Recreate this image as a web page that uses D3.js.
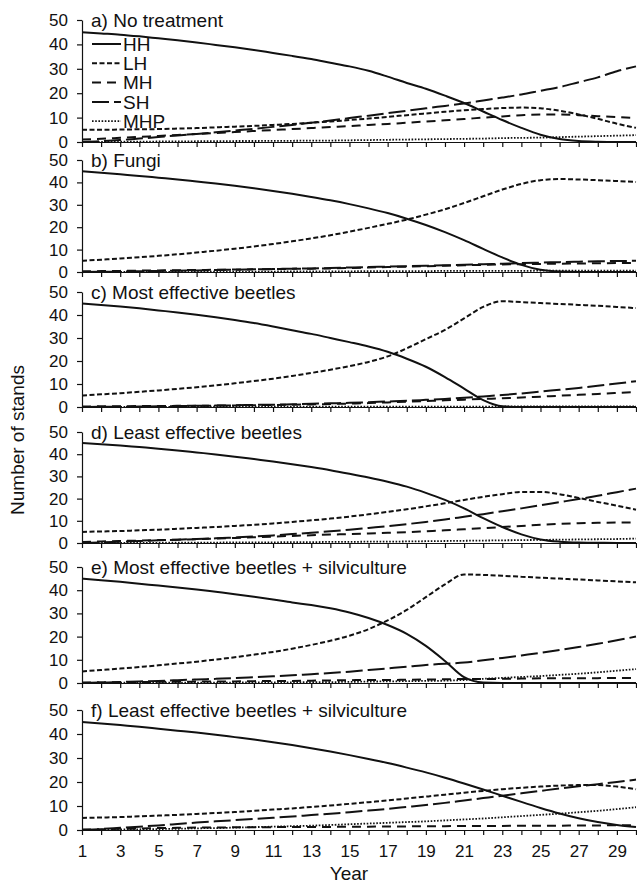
<!DOCTYPE html>
<html>
<head>
<meta charset="utf-8">
<script src="https://cdn.jsdelivr.net/npm/d3@7"></script>
<style>
  body { margin: 0; background: #fff; }
  svg { font-family: "Liberation Sans", Arial, sans-serif; }
  .domain, .tick line { stroke: #111; stroke-width: 1.2; }
  .tick text { fill: #111; }
</style>
</head>
<body>
<div id="chart"></div>
<script>
// Years on the x axis
const years = [1, 2, 3, 4, 5, 6, 7, 8, 9, 10, 11, 12, 13, 14, 15,
  16, 17, 18, 19, 20, 21, 22, 23, 24, 25, 26, 27, 28, 29, 30];
const yTicks = [0, 10, 20, 30, 40, 50];
const seriesNames = ['HH', 'LH', 'MH', 'SH', 'MHP'];
const panelTitles = ['a) No treatment', 'b) Fungi', 'c) Most effective beetles',
  'd) Least effective beetles', 'e) Most effective beetles + silviculture',
  'f) Least effective beetles + silviculture'];

// a) No treatment
const aHH = [45, 44.5, 44, 43.3, 42.5, 41.7, 40.8, 39.8, 38.8, 37.7, 36.5, 35.3, 34, 32.5, 31, 29.2, 26.8, 24.2, 21.8, 19, 16, 12.5, 9, 5.8, 3, 1.2, 0.4, 0.1, 0, 0];
const aLH = [5, 5, 5.1, 5.2, 5.3, 5.5, 5.7, 6, 6.3, 6.6, 7, 7.4, 7.9, 8.4, 9, 9.6, 10.3, 11, 11.7, 12.4, 13, 13.5, 13.9, 14.1, 13.8, 12.8, 11.3, 9.5, 7.5, 5.8];
const aMH = [1, 1.3, 1.7, 2.1, 2.5, 2.9, 3.3, 3.7, 4.1, 4.5, 4.9, 5.3, 5.7, 6.1, 6.5, 7, 7.4, 7.9, 8.4, 8.9, 9.4, 10, 10.5, 11, 11.3, 11.3, 11, 10.6, 10.2, 9.8];
const aSH = [0, 0.3, 0.8, 1.4, 2, 2.7, 3.3, 4, 4.7, 5.4, 6.2, 7, 7.9, 8.8, 9.8, 10.8, 11.8, 12.8, 13.8, 14.8, 15.8, 17, 18.2, 19.5, 21, 22.5, 24.5, 26.5, 29, 31];
const aMHP = [0, 0, 0.1, 0.1, 0.2, 0.2, 0.3, 0.3, 0.4, 0.4, 0.5, 0.5, 0.6, 0.6, 0.7, 0.8, 0.9, 1, 1.1, 1.2, 1.3, 1.4, 1.6, 1.7, 1.8, 2, 2.2, 2.4, 2.6, 2.8];

// b) Fungi
const bHH = [45, 44.3, 43.6, 42.9, 42.1, 41.3, 40.4, 39.5, 38.5, 37.4, 36.2, 34.9, 33.5, 32, 30.3, 28.4, 26.3, 23.8, 21, 17.8, 14.2, 10.3, 6.5, 3.2, 1, 0.2, 0, 0, 0, 0];
const bLH = [5, 5.5, 6, 6.6, 7.2, 7.9, 8.7, 9.5, 10.4, 11.4, 12.5, 13.7, 15, 16.4, 18, 19.7, 21.5, 23.4, 25.6, 28, 30.8, 33.8, 36.8, 39.3, 41, 41.5, 41.3, 41, 40.6, 40.2];
const bMH = [0.3, 0.4, 0.5, 0.6, 0.7, 0.8, 0.9, 1, 1.1, 1.2, 1.3, 1.4, 1.5, 1.6, 1.8, 2, 2.2, 2.4, 2.6, 2.8, 3, 3.2, 3.4, 3.5, 3.6, 3.7, 3.8, 3.9, 4, 4];
const bSH = [0, 0.1, 0.2, 0.3, 0.5, 0.6, 0.7, 0.9, 1, 1.2, 1.3, 1.5, 1.6, 1.8, 2, 2.2, 2.4, 2.6, 2.8, 3, 3.2, 3.5, 3.7, 4, 4.2, 4.4, 4.6, 4.8, 4.9, 5];
const bMHP = [0, 0, 0, 0.1, 0.1, 0.1, 0.1, 0.2, 0.2, 0.2, 0.2, 0.3, 0.3, 0.3, 0.3, 0.4, 0.4, 0.4, 0.4, 0.5, 0.5, 0.5, 0.5, 0.5, 0.6, 0.6, 0.6, 0.6, 0.6, 0.6];

// c) Most effective beetles
const cHH = [45, 44.4, 43.7, 42.9, 42, 41.1, 40.1, 39, 37.8, 36.5, 35, 33.4, 31.8, 30, 28.2, 26.3, 24, 21, 17.5, 13, 8, 3, 0.3, 0, 0, 0, 0, 0, 0, 0];
const cLH = [5, 5.5, 6, 6.6, 7.2, 7.9, 8.6, 9.4, 10.3, 11.3, 12.3, 13.5, 14.8, 16.2, 17.8, 19.6, 22, 25.5, 29.5, 33.5, 38.5, 43.5, 46, 45.6, 45.2, 44.8, 44.4, 44, 43.5, 43];
const cMH = [0.2, 0.3, 0.3, 0.4, 0.4, 0.5, 0.5, 0.6, 0.7, 0.8, 0.9, 1, 1.1, 1.3, 1.5, 1.7, 2, 2.3, 2.6, 2.9, 3.2, 3.5, 3.8, 4.1, 4.5, 4.9, 5.3, 5.7, 6.1, 6.5];
const cSH = [0, 0.1, 0.1, 0.2, 0.3, 0.4, 0.5, 0.6, 0.7, 0.9, 1, 1.2, 1.4, 1.6, 1.8, 2.1, 2.4, 2.7, 3.1, 3.5, 4, 4.6, 5.2, 5.9, 6.7, 7.5, 8.3, 9.2, 10.2, 11.2];
const cMHP = [0, 0, 0, 0, 0, 0, 0.1, 0.1, 0.1, 0.1, 0.1, 0.1, 0.1, 0.2, 0.2, 0.2, 0.2, 0.2, 0.2, 0.2, 0.2, 0.2, 0.2, 0.3, 0.3, 0.3, 0.3, 0.3, 0.3, 0.3];

// d) Least effective beetles
const dHH = [45, 44.5, 43.9, 43.2, 42.5, 41.7, 40.8, 39.9, 38.9, 37.8, 36.7, 35.5, 34.2, 32.8, 31.2, 29.5, 27.6, 25.4, 22.6, 19.4, 15.6, 11.2, 7.2, 3.9, 1.6, 0.6, 0.2, 0.1, 0, 0];
const dLH = [5, 5.2, 5.4, 5.7, 6, 6.4, 6.8, 7.2, 7.7, 8.2, 8.8, 9.5, 10.2, 11, 11.9, 12.9, 14, 15.2, 16.5, 17.9, 19.4, 20.8, 22, 23, 23, 22, 20.3, 18.5, 16.8, 15];
const dMH = [0.5, 0.7, 0.9, 1.1, 1.3, 1.5, 1.7, 2, 2.3, 2.6, 2.9, 3.2, 3.5, 3.8, 4, 4.3, 4.6, 4.9, 5.3, 5.7, 6.2, 6.7, 7.2, 7.7, 8.2, 8.6, 8.9, 9.1, 9.2, 9.2];
const dSH = [0, 0.3, 0.6, 0.9, 1.2, 1.5, 1.8, 2.1, 2.5, 2.9, 3.4, 4, 4.6, 5.3, 6, 6.8, 7.6, 8.5, 9.5, 10.6, 11.8, 13, 14.3, 15.6, 17, 18.4, 19.8, 21.3, 22.9, 24.5];
const dMHP = [0, 0, 0.1, 0.1, 0.1, 0.2, 0.2, 0.2, 0.3, 0.3, 0.3, 0.4, 0.4, 0.5, 0.5, 0.6, 0.6, 0.7, 0.8, 0.9, 1, 1.1, 1.2, 1.3, 1.4, 1.5, 1.6, 1.7, 1.8, 2];

// e) Most effective beetles + silviculture
const eHH = [45, 44.3, 43.6, 42.8, 42, 41.2, 40.3, 39.3, 38.3, 37.2, 36, 34.7, 33.6, 32.2, 30.4, 28, 25, 21.2, 16, 9.5, 2.5, 0.2, 0, 0, 0, 0, 0, 0, 0, 0];
const eLH = [5, 5.6, 6.2, 6.9, 7.6, 8.4, 9.2, 10.1, 11.1, 12.2, 13.4, 14.8, 16.4, 18.2, 20.4, 23.2, 27, 31.5, 37, 42.5, 46.8, 46.6, 46.2, 45.8, 45.4, 45, 44.6, 44.2, 43.8, 43.4];
const eMH = [0.2, 0.3, 0.3, 0.4, 0.5, 0.5, 0.6, 0.7, 0.7, 0.8, 0.9, 0.9, 1, 1.1, 1.2, 1.3, 1.3, 1.4, 1.5, 1.6, 1.7, 1.7, 1.8, 1.9, 2, 2, 2.1, 2.1, 2.2, 2.2];
const eSH = [0, 0.2, 0.4, 0.7, 0.9, 1.2, 1.5, 1.8, 2.1, 2.5, 2.9, 3.3, 3.8, 4.3, 4.9, 5.6, 6.3, 7, 7.8, 8.3, 8.8, 9.8, 10.8, 11.9, 13, 14.2, 15.5, 16.9, 18.4, 20];
const eMHP = [0, 0, 0.1, 0.1, 0.1, 0.1, 0.2, 0.2, 0.2, 0.3, 0.3, 0.3, 0.4, 0.4, 0.5, 0.6, 0.7, 0.8, 0.9, 1, 1.3, 1.8, 2.2, 2.6, 3, 3.5, 4, 4.6, 5.3, 6];

// f) Least effective beetles + silviculture
const fHH = [45, 44.4, 43.7, 43, 42.2, 41.4, 40.6, 39.7, 38.7, 37.7, 36.6, 35.4, 34.1, 32.7, 31.2, 29.6, 27.9, 26, 24, 21.8, 19.4, 16.9, 14.3, 11.7, 9.2, 6.9, 4.9, 3.3, 2.1, 1.3];
const fLH = [5, 5.2, 5.4, 5.7, 6, 6.3, 6.7, 7.1, 7.5, 8, 8.5, 9, 9.6, 10.2, 10.9, 11.6, 12.3, 13.1, 13.9, 14.7, 15.5, 16.3, 17, 17.6, 18.1, 18.5, 18.7, 18.7, 18.1, 17];
const fMH = [0.2, 0.3, 0.5, 0.6, 0.8, 0.9, 1, 1, 1.1, 1.1, 1.2, 1.2, 1.3, 1.3, 1.4, 1.4, 1.5, 1.5, 1.6, 1.6, 1.7, 1.7, 1.7, 1.8, 1.8, 1.8, 1.9, 1.9, 2, 2];
const fSH = [0, 0.4, 0.9, 1.4, 1.9, 2.5, 3.1, 3.6, 4.1, 4.6, 5.1, 5.6, 6.2, 6.8, 7.4, 8.1, 8.8, 9.6, 10.4, 11.3, 12.3, 13.3, 14.3, 15.3, 16.3, 17.3, 18.2, 19.1, 20, 21];
const fMHP = [0, 0.1, 0.2, 0.3, 0.4, 0.5, 0.7, 0.8, 1, 1.2, 1.4, 1.6, 1.8, 2.1, 2.4, 2.7, 3, 3.3, 3.6, 4, 4.4, 4.8, 5.3, 5.8, 6.3, 6.8, 7.4, 8, 8.7, 9.5];

// Series of each panel, in seriesNames order
const panelSeries = [
  [aHH, aLH, aMH, aSH, aMHP],
  [bHH, bLH, bMH, bSH, bMHP],
  [cHH, cLH, cMH, cSH, cMHP],
  [dHH, dLH, dMH, dSH, dMHP],
  [eHH, eLH, eMH, eSH, eMHP],
  [fHH, fLH, fMH, fSH, fMHP]
];

let w = 637, h = 885,
  left = 82, right = 636,
  // y pixel of the 50 and 0 values of each panel
  panelTop = [20, 160, 292, 432, 567, 710],
  panelBottom = [142, 272, 407, 543, 683, 830],
  // dash pattern and width for each series
  dashes = [null, '5,2.5', '9,6', '17,5', '1.6,1.6'],
  widths = [2, 2, 2, 2, 1.8],
  ink = '#111',
  tickFont = '17px',
  textFont = '19px';

let svg = d3.select('#chart').
append('svg').
attr('width', w).
attr('height', h);

let x = d3.scaleLinear().domain([1, 30]).range([left, right]);

panelSeries.forEach((series, p) => {
  let y = d3.scaleLinear().domain([0, 50]).range([panelBottom[p], panelTop[p]]),
  g = svg.append('g'),
  last = p === panelSeries.length - 1;

  // x axis with a tick every year, labels on odd years only for the bottom panel
  g.append('g').
  attr('transform', 'translate(0,' + panelBottom[p] + ')').
  call(d3.axisBottom(x).
  tickValues(years).
  tickSize(5).
  tickSizeOuter(0).
  tickPadding(10).
  tickFormat(d => last && d % 2 === 1 ? d : '')).
  selectAll('text').
  style('font-size', tickFont);

  // y axis
  g.append('g').
  attr('transform', 'translate(' + left + ',0)').
  call(d3.axisLeft(y).
  tickValues(yTicks).
  tickSize(5).
  tickSizeOuter(0).
  tickPadding(9)).
  selectAll('text').
  style('font-size', tickFont);

  // lines
  let line = d3.line().
  x((d, i) => x(years[i])).
  y(d => y(d)).
  curve(d3.curveMonotoneX);

  series.forEach((s, i) => {
    g.append('path').
    datum(s).
    attr('fill', 'none').
    attr('stroke', ink).
    attr('stroke-width', widths[i]).
    attr('stroke-dasharray', dashes[i]).
    attr('d', line);
  });

  // panel title
  g.append('text').
  attr('x', left + 9).
  attr('y', panelTop[p] + 7).
  style('font-size', textFont).
  attr('fill', ink).
  text(panelTitles[p]);
});

// Legend in the first panel
let legend = svg.append('g').attr('transform', 'translate(92,44)');
seriesNames.forEach((name, i) => {
  legend.append('line').
  attr('x1', 0).
  attr('x2', 29).
  attr('y1', i * 19.3).
  attr('y2', i * 19.3).
  attr('stroke', ink).
  attr('stroke-width', widths[i]).
  attr('stroke-dasharray', dashes[i]);
  legend.append('text').
  attr('x', 31).
  attr('y', i * 19.3).
  attr('dy', '0.36em').
  style('font-size', textFont).
  attr('fill', ink).
  text(name);
});

// Axis titles
svg.append('text').
attr('x', 349).
attr('y', 880).
attr('text-anchor', 'middle').
style('font-size', textFont).
attr('fill', ink).
text('Year');

svg.append('text').
attr('transform', 'translate(24,440) rotate(-90)').
attr('text-anchor', 'middle').
style('font-size', textFont).
attr('fill', ink).
text('Number of stands');
</script>
</body>
</html>
